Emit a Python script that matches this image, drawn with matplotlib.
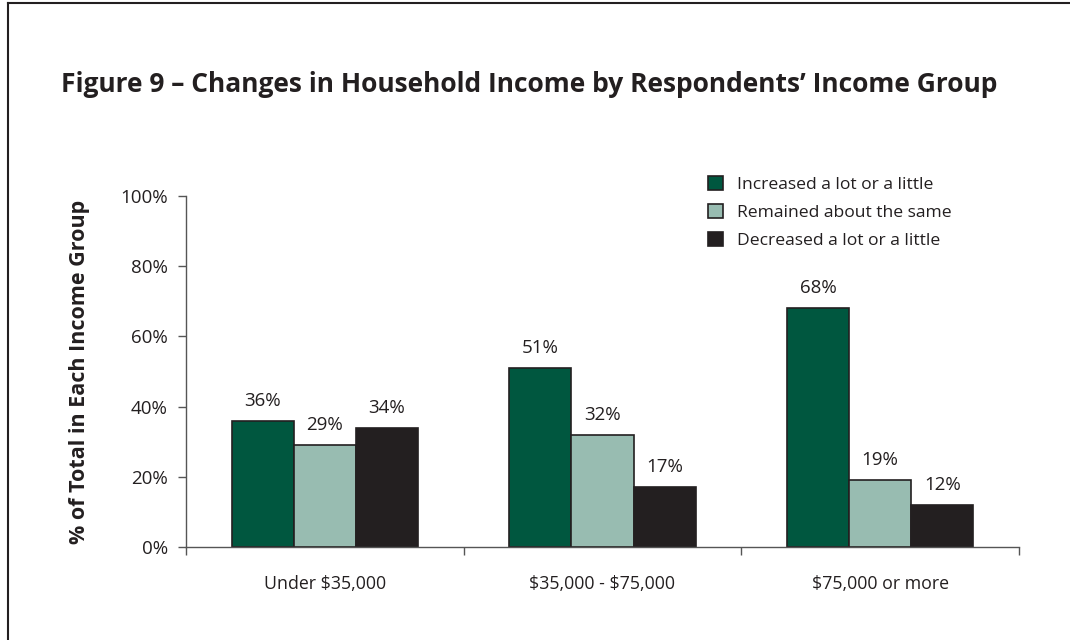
import matplotlib.pyplot as plt
import numpy as np
from matplotlib.lines import Line2D

plt.rcParams['font.family'] = ['Open Sans', 'DejaVu Sans']
plt.rcParams['text.parse_math'] = False

groups = ['Under $35,000', '$35,000 - $75,000', '$75,000 or more']
series_names = ['Increased a lot or a little', 'Remained about the same', 'Decreased a lot or a little']
increased = [36, 51, 68]
remained = [29, 32, 19]
decreased = [34, 17, 12]
colors = ['#00573f', '#98bcb1', '#231f20']

fig = plt.figure(figsize=(10.7, 6.4), dpi=100)
ax = fig.add_axes([0.1738, 0.1453, 0.7785, 0.5485])

x = np.arange(len(groups))
width = 0.224
for i, (vals, name, c) in enumerate(zip([increased, remained, decreased], series_names, colors)):
    pos = x + (i - 1) * width
    bars = ax.bar(pos, vals, width, color=c, edgecolor='#231f20', linewidth=1.2, label=name)
    for b, v in zip(bars, vals):
        ax.annotate(f'{v}%', (b.get_x() + b.get_width() / 2, v), xytext=(0, 8),
                    textcoords='offset points', ha='center', va='bottom',
                    fontsize=13.5, color='#231f20')

ax.set_xlim(-0.5, 2.5)
ax.set_ylim(0, 100)
ax.set_yticks(range(0, 101, 20))
ax.set_yticklabels([f'{t}%' for t in range(0, 101, 20)], fontsize=13.5, color='#231f20')
ax.set_xticks(x)
ax.set_xticklabels(groups, fontsize=12.8, color='#231f20')
ax.tick_params(axis='x', length=0, pad=20)
ax.tick_params(axis='y', length=6, width=1, color='#555555', direction='out', pad=7)
# group separator ticks below the baseline
ax.set_xticks([-0.5, 0.5, 1.5, 2.5], minor=True)
ax.tick_params(axis='x', which='minor', length=6, width=1, color='#555555', direction='out')

for s in ['top', 'right']:
    ax.spines[s].set_visible(False)
for s in ['left', 'bottom']:
    ax.spines[s].set_color('#555555')
    ax.spines[s].set_linewidth(1)

ax.set_ylabel('% of Total in Each Income Group', fontsize=15.5, fontweight='bold',
              color='#231f20', labelpad=22)

leg = ax.legend(loc='upper left', bbox_to_anchor=(0.618, 1.077), frameon=False,
                fontsize=12.6, handlelength=0.85, handleheight=0.85, handletextpad=0.8,
                labelspacing=0.62, borderaxespad=0)
for t in leg.get_texts():
    t.set_color('#231f20')

fig.text(61 / 1070, 1 - 85 / 640, 'Figure 9 – Changes in Household Income by Respondents’ Income Group',
         fontsize=19, fontweight='bold', color='#231f20', ha='left', va='center')

# frame lines on left and top of the page
fig.add_artist(Line2D([8 / 1070, 8 / 1070], [0, 1 - 3 / 640], color='#231f20', linewidth=1.5))
fig.add_artist(Line2D([8 / 1070, 1], [1 - 3 / 640, 1 - 3 / 640], color='#231f20', linewidth=1.5))

fig.savefig('out.png', dpi=100)
